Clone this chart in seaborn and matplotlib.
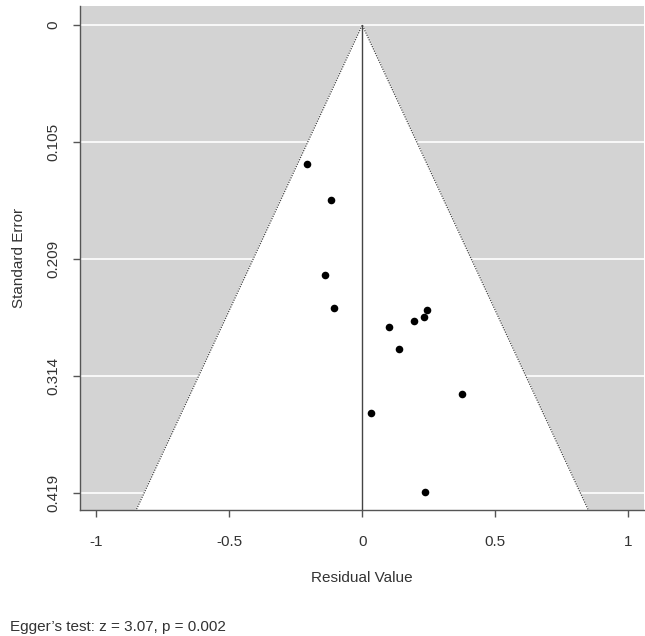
import matplotlib
matplotlib.use("Agg")
import matplotlib.pyplot as plt
import numpy as np
import pandas as pd
import seaborn as sns

# residuals and standard errors
residuals = [-0.209, -0.117, -0.140, -0.106, 0.245, 0.231, 0.193, 0.102, 0.140, 0.032, 0.374, 0.236]
std_errors = [0.1247, 0.1567, 0.2241, 0.2534, 0.2552, 0.2617, 0.2650, 0.2706, 0.2898, 0.3474, 0.3301, 0.4178]
y_ticks = [0.0, 0.1047, 0.2094, 0.3141, 0.4188]
y_tick_labels = ["0", "0.105", "0.209", "0.314", "0.419"]
x_ticks = [-1, -0.5, 0, 0.5, 1]
x_tick_labels = ["-1", "-0.5", "0", "0.5", "1"]
egger_text = "Egger\u2019s test: z = 3.07, p = 0.002"

XLIM = (-1.062, 1.060)
YLIM = (0.434, -0.017)
Z = 1.96

sns.set_theme(style="white")
plt.rcParams["font.family"] = ["Liberation Sans", "DejaVu Sans"]

df = pd.DataFrame({"residual": residuals, "se": std_errors})

fig = plt.figure(figsize=(6.45, 6.36), dpi=100)
ax = fig.add_axes([80 / 645, 1 - 510 / 636, 564 / 645, 504 / 636])
ax.set_facecolor("#D3D3D3")

for t in y_ticks:
    ax.axhline(t, color="white", linewidth=1.2, zorder=1)

se_far = YLIM[0] + 0.05
ax.fill([-Z * se_far, 0, Z * se_far], [se_far, 0, se_far], color="white", zorder=2)
ax.plot([-Z * se_far, 0, Z * se_far], [se_far, 0, se_far], color="#444444",
        linestyle=(0, (1, 1)), linewidth=0.9, zorder=3)
ax.plot([0, 0], [0, se_far], color="#444444", linewidth=1.0, zorder=3)

sns.scatterplot(data=df, x="residual", y="se", ax=ax, color="black", s=30,
                edgecolor="black", linewidth=0, zorder=4, legend=False)

ax.set_xlim(*XLIM)
ax.set_ylim(*YLIM)
ax.set_xticks(x_ticks)
ax.set_xticklabels(x_tick_labels)
ax.set_yticks(y_ticks)
ax.set_yticklabels(y_tick_labels, rotation=90, va="center")

for side in ["top", "right"]:
    ax.spines[side].set_visible(False)
for side in ["left", "bottom"]:
    ax.spines[side].set_color("#555555")
    ax.spines[side].set_linewidth(1.0)

ax.tick_params(axis="both", direction="out", length=5, width=1.0, color="#555555",
               labelsize=11, labelcolor="#333333", left=True, bottom=True)
ax.tick_params(axis="x", pad=13)
ax.tick_params(axis="y", pad=9)

ax.set_xlabel("Residual Value", fontsize=11, color="#333333", labelpad=16)
ax.set_ylabel("Standard Error", fontsize=11, color="#333333", labelpad=15)

fig.text(0.015, 1 - 627 / 636, egger_text, fontsize=11, color="#333333", va="center", ha="left")

fig.savefig("out.png", dpi=100)
